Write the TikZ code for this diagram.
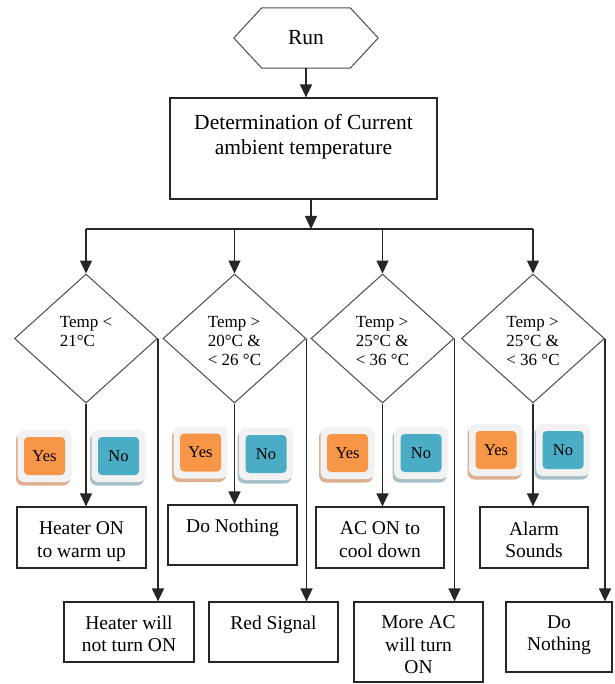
\documentclass[tikz,border=0pt]{standalone}
\usepackage{fontspec}
\setmainfont{Liberation Serif}
\usetikzlibrary{shapes.geometric,arrows.meta}
\definecolor{yesorange}{HTML}{F79646}
\definecolor{noblue}{HTML}{4BACC6}
\definecolor{yesshadow}{HTML}{DDB08F}
\definecolor{noshadow}{HTML}{A6C0C8}
\definecolor{badgeframe}{HTML}{F2F2F2}
\newcommand{\mybadge}[6]{%
  \fill[#5, rounded corners=7pt] ({#2-28.5},{#3-23}) rectangle ({#2+25.5},{#3+29.5});
  \fill[badgeframe, rounded corners=7pt] ({#2-27},{#3-26}) rectangle ({#2+27},{#3+26});
  \node[badge=#4] (#1) at (#2,#3) {#6};
}
\begin{document}
\begin{tikzpicture}[x=1pt,y=-1pt,
  line/.style={draw=black!85, line width=1.3pt},
  arr/.style={line, -{Triangle[width=12pt,length=13pt]}},
  box/.style={draw=black!85, line width=1.2pt, rectangle, inner sep=0pt},
  dec/.style={draw=black!70, line width=1pt, diamond, inner sep=0pt, minimum width=143pt, minimum height=129pt},
  boxtxt/.style={inner sep=0pt, align=center, anchor=north, font=\rmfamily\fontsize{19.5}{22.5}\selectfont},
  dectxt/.style={inner sep=0pt, align=left, anchor=north, font=\rmfamily\fontsize{17}{19}\selectfont},
  badge/.style={fill=#1, rounded corners=4pt, minimum width=41pt, minimum height=38pt, inner sep=0pt, font=\rmfamily\fontsize{16.5}{18}\selectfont},
]
\fill[white] (0,0) rectangle (614,684);
\useasboundingbox (0,0) rectangle (614,684);

% start
\node[minimum width=144pt, minimum height=60pt, inner sep=0pt, font=\rmfamily\fontsize{21.5}{25}\selectfont] (run) at (306,38) {Run};
\draw[draw=black!70, line width=1pt] (run.west) -- ([xshift=28pt]run.north west) -- ([xshift=-28pt]run.north east) -- (run.east) -- ([xshift=-28pt]run.south east) -- ([xshift=28pt]run.south west) -- cycle;

% main box
\node[box, minimum width=267pt, minimum height=101pt] (main) at (303.5,148.5) {};
\node[boxtxt, font=\rmfamily\fontsize{21.5}{25}\selectfont] (maintxt) at ([yshift=-16.5pt]main.north) {Determination of Current\\ambient temperature};

\coordinate (split) at (311,229);
\coordinate (j1) at (86,229);
\coordinate (j2) at (234.5,229);
\coordinate (j3) at (382.5,229);
\coordinate (j4) at (533,229);

% decisions
\node[dec] (d1) at (86,338.5) {};
\node[dec] (d2) at (234.5,338.5) {};
\node[dec] (d3) at (382.5,338.5) {};
\node[dec] (d4) at (533,338.5) {};
\node[dectxt] (t1) at (86,316) {Temp <\\21°C};
\node[dectxt] (t2) at (234.5,316) {Temp >\\20°C \&\\< 26 °C};
\node[dectxt] (t3) at (382.5,316) {Temp >\\25°C \&\\< 36 °C};
\node[dectxt] (t4) at (533,316) {Temp >\\25°C \&\\< 36 °C};

% result boxes
\node[box, minimum width=129pt, minimum height=61pt] (b1) at (81.5,537.5) {};
\node[box, minimum width=130pt, minimum height=60pt] (n1) at (129,632) {};
\node[box, minimum width=129pt, minimum height=60pt] (b2) at (232.5,535) {};
\node[box, minimum width=129pt, minimum height=60pt] (n2) at (273.5,632) {};
\node[box, minimum width=128pt, minimum height=61pt] (b3) at (380,537.5) {};
\node[box, minimum width=129pt, minimum height=80pt] (n3) at (418.5,642) {};
\node[box, minimum width=108pt, minimum height=61pt] (b4) at (534,537.5) {};
\node[box, minimum width=106pt, minimum height=70pt] (n4) at (559,637) {};

\node[boxtxt] (b1t) at ([yshift=-15pt]b1.north) {Heater ON\\to warm up};
\node[boxtxt] (n1t) at ([yshift=-14pt]n1.north) {Heater will\\not turn ON};
\node[boxtxt] (b2t) at ([yshift=-14pt]b2.north) {Do Nothing};
\node[boxtxt] (n2t) at ([yshift=-14pt]n2.north) {Red Signal};
\node[boxtxt] (b3t) at ([yshift=-15pt]b3.north) {AC ON to\\cool down};
\node[boxtxt] (n3t) at ([yshift=-14pt]n3.north) {More AC\\will turn\\ON};
\node[boxtxt] (b4t) at ([yshift=-15pt]b4.north) {Alarm\\Sounds};
\node[boxtxt] (n4t) at ([yshift=-14pt]n4.north) {Do\\Nothing};

% badges
\mybadge{y1}{44.5}{456}{yesorange}{yesshadow}{Yes}
\mybadge{no1}{118.5}{456}{noblue}{noshadow}{No}
\mybadge{y2}{200.5}{452.5}{yesorange}{yesshadow}{Yes}
\mybadge{no2}{266}{454}{noblue}{noshadow}{No}
\mybadge{y3}{347.5}{453}{yesorange}{yesshadow}{Yes}
\mybadge{no3}{421}{453}{noblue}{noshadow}{No}
\mybadge{y4}{496}{450}{yesorange}{yesshadow}{Yes}
\mybadge{no4}{563}{450}{noblue}{noshadow}{No}

% connectors
\draw[arr] (run.south) -- (run.south |- main.north);
\draw[arr] (main.south -| split) -- (split);
\draw[line] (j1) -- (j4);
\draw[arr] (j1) -- (d1.north);
\draw[arr] (j2) -- (d2.north);
\draw[arr] (j3) -- (d3.north);
\draw[arr] (j4) -- (d4.north);

\draw[arr] (d1.south) -- (d1.south |- b1.north);
\draw[arr] (d2.south) -- (d2.south |- b2.north);
\draw[arr] (d3.south) -- (d3.south |- b3.north);
\draw[arr] (d4.south) -- (d4.south |- b4.north);

\draw[arr] (d1.east) -- (d1.east |- n1.north);
\draw[arr] (d2.east) -- (d2.east |- n2.north);
\draw[arr] (d3.east) -- (d3.east |- n3.north);
\draw[arr] (d4.east) -- (d4.east |- n4.north);
\end{tikzpicture}
\end{document}
